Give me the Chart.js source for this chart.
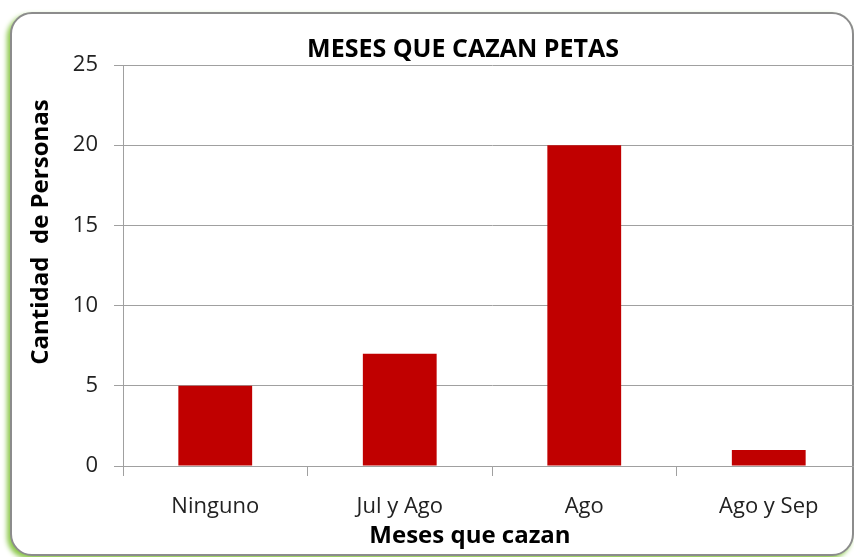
<!DOCTYPE html>
<html>
<head>
<meta charset="utf-8">
<script src="https://cdn.jsdelivr.net/npm/chart.js@4"></script>
<style>
  html, body { margin: 0; padding: 0; background: #fff; }
  body { width: 854px; height: 557px; overflow: hidden; position: relative; }
  .frame {
    position: absolute; left: 10px; top: 12px; width: 840px; height: 540px;
    border: 2px solid #8c8c8c; border-radius: 22px; background: #fff;
    box-shadow: -3px 3px 5px #8cc84b;
  }
  .holder { position: absolute; left: 0; top: 0; width: 880px; height: 557px; }
</style>
</head>
<body>
<div class="frame"></div>
<div class="holder"><canvas id="myChart"></canvas></div>
<script>
// chart values
const categories = ['Ninguno', 'Jul y Ago', 'Ago', 'Ago y Sep'];
const personas = [5, 7, 20, 1];
const yTickValues = [0, 5, 10, 15, 20, 25];

const chartTitle = 'MESES QUE CAZAN PETAS';
const yTitle = 'Cantidad  de Personas';
const xTitle = 'Meses que cazan';

// draws the titles where the original sheet has them
const titlesPlugin = {
  id: 'titles',
  afterDraw(chart) {
    const ctx = chart.ctx;
    ctx.save();
    ctx.fillStyle = '#000';
    ctx.textAlign = 'center';
    ctx.textBaseline = 'middle';
    ctx.font = 'bold 25px "Open Sans"';
    ctx.fillText(chartTitle, 463, 50);
    ctx.font = 'bold 24px "Open Sans"';
    ctx.fillText(xTitle, 470, 536);
    ctx.translate(41, 232);
    ctx.rotate(-Math.PI / 2);
    ctx.fillText(yTitle, 0, 0);
    ctx.restore();
  }
};

const ctx = document.getElementById('myChart').getContext('2d');
const myChart = new Chart(ctx, {
  type: 'bar',
  data: {
    labels: categories,
    datasets: [{
      data: personas,
      backgroundColor: '#c00000',
      borderWidth: 0,
      barPercentage: 0.4,
      categoryPercentage: 1.0
    }]
  },
  options: {
    responsive: true,
    maintainAspectRatio: false,
    animation: false,
    layout: { padding: { left: 0, top: 65, right: 19, bottom: 0 } },
    plugins: {
      legend: { display: false },
      title: { display: false },
      tooltip: { enabled: false }
    },
    scales: {
      x: {
        afterFit(scale) { scale.height = 91; },
        grid: {
          offset: true,
          drawOnChartArea: false,
          drawTicks: true,
          tickLength: 10,
          color: '#a0a0a0'
        },
        border: { color: '#a0a0a0', width: 1 },
        ticks: {
          padding: 18,
          color: '#222',
          font: { family: 'Open Sans', size: 22 }
        }
      },
      y: {
        min: 0,
        max: 25,
        afterFit(scale) { scale.width = 123; },
        afterBuildTicks(scale) {
          scale.ticks = yTickValues.map(v => ({ value: v }));
        },
        grid: {
          color: '#a0a0a0',
          drawTicks: true,
          tickLength: 9
        },
        border: { color: '#a0a0a0', width: 1 },
        ticks: {
          padding: 16,
          color: '#222',
          font: { family: 'Open Sans', size: 22 }
        }
      }
    }
  },
  plugins: [titlesPlugin]
});
</script>
</body>
</html>
